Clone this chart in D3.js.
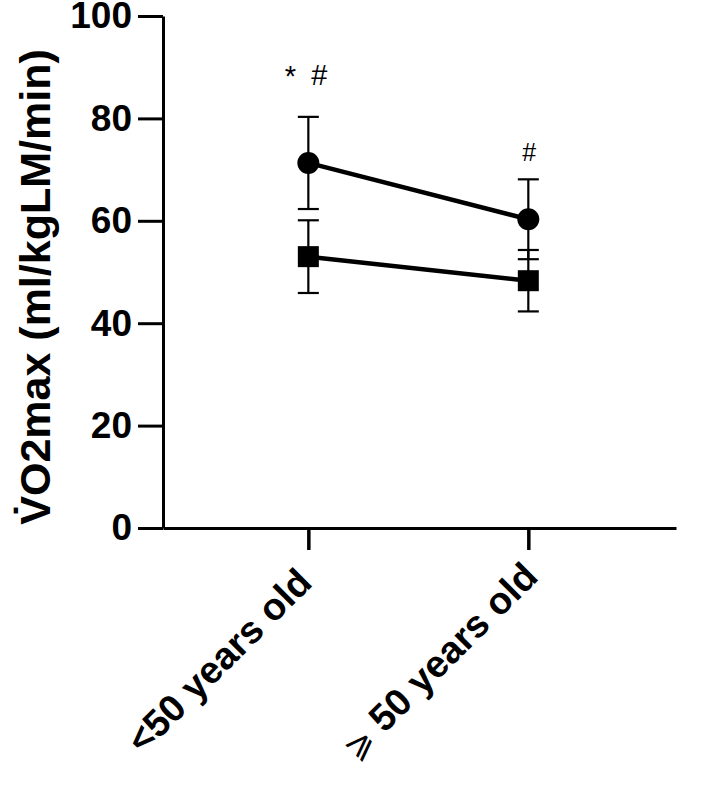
<!DOCTYPE html>
<html>
<head>
<meta charset="utf-8">
<script src="https://cdn.jsdelivr.net/npm/d3@7"></script>
<style>
  html, body { margin: 0; padding: 0; background: #fff; }
  svg { display: block; }
  text { font-family: Arial, "Liberation Sans", Helvetica, sans-serif; fill: #000; }
</style>
</head>
<body>
<svg id="chart" width="715" height="788"></svg>
<script>
// ---- data ----
const categories = ["<50 years old", "⩾ 50 years old"];
const circleMeans = [71.3, 60.3];
const circleSD = [9.0, 7.8];
const squareMeans = [53.0, 48.3];
const squareSD = [7.1, 6.0];
const yTicks = [0, 20, 40, 60, 80, 100];
const yLabel = "V\u0307O2max (ml/kgLM/min)";

(function () {
const svg = d3.select("#chart");
const pLeft = 163, pRight = 676, pTop = 16, pBottom = 528;

const x = d3.scalePoint().domain(categories).range([pLeft, pRight]).padding(0.666).align(0.496);
const y = d3.scaleLinear().domain([0, 100]).range([pBottom, pTop]);

// y axis
const yAxis = svg.append("g")
  .attr("transform", `translate(${pLeft},0)`)
  .call(d3.axisLeft(y).tickValues(yTicks).tickSize(25).tickSizeOuter(0).tickPadding(6));
yAxis.select(".domain").attr("stroke", "#000").attr("stroke-width", 3);
yAxis.selectAll(".tick line").attr("stroke", "#000").attr("stroke-width", 3);
yAxis.selectAll(".tick text")
  .attr("font-size", 37).attr("font-weight", "bold")
  .style("font-family", "Arial, 'Liberation Sans', sans-serif").attr("fill", "#000");

// x axis
const xAxis = svg.append("g")
  .attr("transform", `translate(0,${pBottom})`)
  .call(d3.axisBottom(x).tickSize(22).tickSizeOuter(0));
xAxis.select(".domain").attr("stroke", "#000").attr("stroke-width", 3);
xAxis.selectAll(".tick line").attr("stroke", "#000").attr("stroke-width", 3.5);
xAxis.selectAll(".tick text").remove();

// x labels (rotated about their centre)
const xl = svg.append("g").selectAll("text").data(categories).join("text")
  .attr("transform", d => `translate(${x(d) - 80},${pBottom + 142}) rotate(-45)`)
  .attr("text-anchor", "middle")
  .attr("font-size", 38)
  .attr("font-weight", "bold");
xl.each(function(d) {
  const t = d3.select(this);
  if (d.startsWith("⩾")) {
    t.append("tspan").attr("font-weight", "normal")
      .style("font-family", "'DejaVu Sans', sans-serif").attr("font-size", 34).text("⩾");
    t.append("tspan").text(d.slice(1));
  } else {
    t.text(d);
  }
});

// y label
svg.append("text")
  .attr("transform", `translate(50,287) rotate(-90)`)
  .attr("text-anchor", "middle")
  .attr("font-size", 43)
  .attr("font-weight", "bold")
  .text(yLabel);

// series
const series = [
  { means: squareMeans, sd: squareSD, shape: "square" },
  { means: circleMeans, sd: circleSD, shape: "circle" }
];
const capW = 21;
const eb = svg.append("g");
series.forEach(s => {
  categories.forEach((c, i) => {
    const cx = x(c);
    const hi = y(s.means[i] + s.sd[i]), lo = y(s.means[i] - s.sd[i]);
    eb.append("line").attr("x1", cx).attr("x2", cx).attr("y1", hi).attr("y2", lo)
      .attr("stroke", "#000").attr("stroke-width", 2.2);
    [hi, lo].forEach(v => eb.append("line")
      .attr("x1", cx - capW / 2).attr("x2", cx + capW / 2).attr("y1", v).attr("y2", v)
      .attr("stroke", "#000").attr("stroke-width", 2.2));
  });
});

const line = d3.line().x((d, i) => x(categories[i])).y(d => y(d));
series.forEach(s => {
  svg.append("path").datum(s.means).attr("d", line)
    .attr("fill", "none").attr("stroke", "#000").attr("stroke-width", 4.5);
});

series.forEach(s => {
  const g = svg.append("g");
  s.means.forEach((m, i) => {
    const cx = x(categories[i]), cy = y(m);
    if (s.shape === "circle") {
      g.append("circle").attr("cx", cx).attr("cy", cy).attr("r", 11).attr("fill", "#000");
    } else {
      g.append("rect").attr("x", cx - 10.5).attr("y", cy - 10.5)
        .attr("width", 21).attr("height", 21).attr("fill", "#000");
    }
  });
});

// significance marks above the circle series
const c0 = x(categories[0]);
svg.append("text").attr("x", c0 - 18).attr("y", y(circleMeans[0] + circleSD[0]) - 31)
  .attr("text-anchor", "middle").attr("font-size", 29).text("*");
svg.append("text").attr("x", c0 + 11).attr("y", y(circleMeans[0] + circleSD[0]) - 32)
  .attr("text-anchor", "middle").attr("font-size", 29).text("#");
const c1 = x(categories[1]);
svg.append("text").attr("x", c1 + 1).attr("y", y(circleMeans[1] + circleSD[1]) - 18)
  .attr("text-anchor", "middle").attr("font-size", 25).text("#");
})();
</script>
</body>
</html>
